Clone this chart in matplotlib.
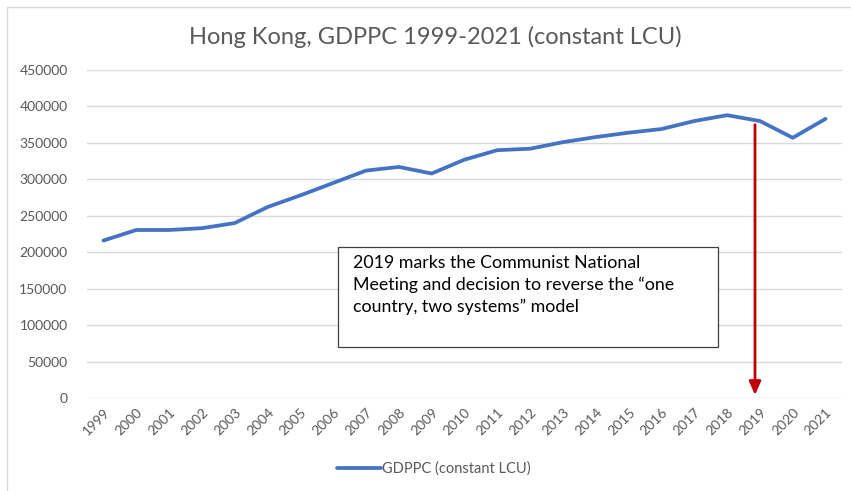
import matplotlib.pyplot as plt
from matplotlib.patches import Rectangle

plt.rcParams['font.family'] = ['Lato', 'DejaVu Sans']

# GDP per capita, constant LCU
years = [str(y) for y in range(1999, 2022)]
gdppc = [216000, 230500, 230500, 233000, 240000, 262000, 278000, 295000,
         312000, 317000, 308000, 327000, 340000, 342000, 351000, 358000,
         364000, 369000, 380000, 388000, 380000, 357000, 383000]
yticks = list(range(0, 450001, 50000))

note = ("2019 marks the Communist National\n"
        "Meeting and decision to reverse the \u201cone\n"
        "country, two systems\u201d model")
arrow_year = "2019"
arrow_top = 375000

fig = plt.figure(figsize=(8.51, 4.91), dpi=100)
ax = fig.add_axes([87 / 851, 1 - 398 / 491, 755 / 851, 328 / 491])

x = list(range(len(years)))
ax.plot(x, gdppc, color='#4472C4', lw=2.7, solid_capstyle='round',
        solid_joinstyle='round', label='GDPPC (constant LCU)', zorder=3)

ax.set_xlim(-0.5, len(years) - 0.5)
ax.set_ylim(0, 450000)
ax.set_yticks(yticks)
ax.set_yticklabels([str(v) for v in yticks])
ax.set_xticks(x)
ax.set_xticklabels(years, rotation=45, ha='right', rotation_mode='anchor')
ax.grid(axis='y', color='#D9D9D9', lw=1)
ax.set_axisbelow(True)
for s in ax.spines.values():
    s.set_visible(False)
ax.tick_params(axis='both', length=0, labelsize=10, labelcolor='#595959')
ax.tick_params(axis='y', pad=14)
ax.tick_params(axis='x', pad=6)

# red arrow down to the 2019 tick
xi = years.index(arrow_year) - 0.15
ax.annotate('', xy=(xi, 4000), xytext=(xi, arrow_top),
            arrowprops=dict(arrowstyle='-|>,head_width=0.35,head_length=0.8',
                            color='#C00000', lw=2, shrinkA=0, shrinkB=0),
            zorder=4)

fig.text(0.511, 1 - 37 / 491, 'Hong Kong, GDPPC 1999-2021 (constant LCU)',
         ha='center', va='center', fontsize=17, color='#595959')

# annotation box
fig.patches.append(Rectangle((338 / 851, 1 - 347 / 491), 380 / 851, 100 / 491,
                             transform=fig.transFigure, facecolor='white',
                             edgecolor='#404040', lw=0.9, zorder=5))
fig.text(353 / 851, 1 - 255 / 491, note, ha='left', va='top', fontsize=12.8,
         color='black', linespacing=1.42, zorder=6)

# outer chart border
fig.patches.append(Rectangle((7 / 851, -0.05), 1.2, 1 - 7 / 491 + 0.05,
                             transform=fig.transFigure, fill=False,
                             edgecolor='#D9D9D9', lw=1))

fig.legend(loc='center', bbox_to_anchor=(0.51, 1 - 469 / 491), frameon=False,
           fontsize=10.5, labelcolor='#595959', handlelength=3.0,
           handletextpad=0.1)

fig.savefig('out.png', dpi=100)
